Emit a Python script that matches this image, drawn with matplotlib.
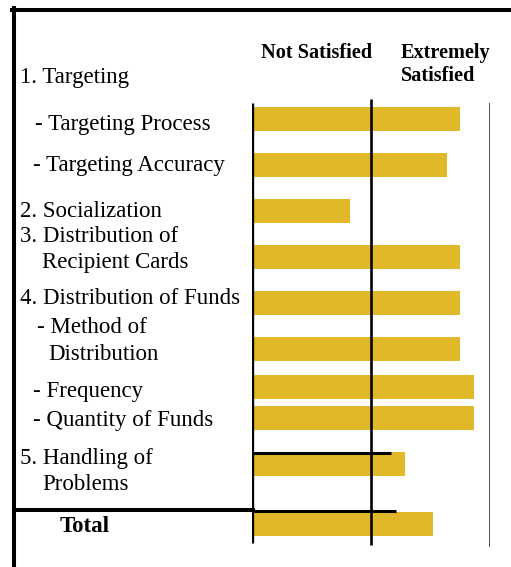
import matplotlib
matplotlib.use("Agg")
import matplotlib.pyplot as plt
from matplotlib.lines import Line2D

W, H = 511, 567

# satisfaction scores, 1 = not satisfied, 5 = extremely satisfied
items = ["Targeting Process", "Targeting Accuracy", "Socialization",
         "Distribution of Recipient Cards", "Distribution of Funds",
         "Method of Distribution", "Frequency", "Quantity of Funds",
         "Handling of Problems", "Total"]
scores = [4.50, 4.28, 2.65, 4.50, 4.50, 4.50, 4.73, 4.73, 3.57, 4.04]
scale_min, scale_mid, scale_max = 1, 3, 5

# row layout (pixel rows from top of the page)
bar_rows = [119, 165, 211, 257, 303, 349, 386.5, 417.5, 464, 524]
bar_h = 24

# left column labels: text, x px, baseline px, bold
labels = [
    ("1. Targeting", 20, 83, False),
    ("- Targeting Process", 35, 130, False),
    ("- Targeting Accuracy", 33, 171, False),
    ("2. Socialization", 20, 217, False),
    ("3. Distribution of", 20, 242, False),
    ("Recipient Cards", 42, 268, False),
    ("4. Distribution of Funds", 20, 304, False),
    ("- Method of", 37, 333, False),
    ("Distribution", 48, 360, False),
    ("- Frequency", 33, 397, False),
    ("- Quantity of Funds", 33, 426, False),
    ("5. Handling of", 20, 464, False),
    ("Problems", 42, 490, False),
    ("Total", 60, 532, True),
]
headers = [("Not Satisfied", 261, 58), ("Extremely", 401, 58), ("Satisfied", 401, 81)]

plt.rcParams['font.family'] = ['Liberation Serif', 'DejaVu Serif']

fig = plt.figure(figsize=(W / 100, H / 100), dpi=100)
fig.patch.set_facecolor("white")

# bar axes: x is the score scale, y runs in page pixels (top = 0)
ax = fig.add_axes([252 / W, 0, (490 - 252) / W, 1])
ax.set_xlim(scale_min, scale_max)
ax.set_ylim(H, 0)
ax.axis("off")

ax.barh(bar_rows, [s - scale_min for s in scores], left=scale_min,
        height=bar_h, color="#E1B928", zorder=2)

# scale lines
ax.vlines(scale_min, 103, 543, color="black", lw=2.4, zorder=3)
ax.vlines(scale_mid, 99, 545, color="black", lw=1.9, zorder=3)
ax.vlines(scale_max, 103, 547, color="#222222", lw=1.1, zorder=3)

# the odd little separators over the last two bars
px = (scale_max - scale_min) / (490 - 252)
ax.hlines(453, scale_min, scale_min + (391 - 252) * px, color="black", lw=2.2, zorder=3)
ax.hlines(511, scale_min, scale_min + (396 - 252) * px, color="black", lw=2.2, zorder=3)


def fx(x):
    return x / W


def fy(y):
    return 1 - y / H


# page frame
fig.add_artist(Line2D([fx(12), fx(W)], [fy(10), fy(10)], color="black", lw=2.9))
fig.add_artist(Line2D([fx(14), fx(14)], [fy(8), fy(H)], color="black", lw=2.9))
fig.add_artist(Line2D([fx(14), fx(253)], [fy(510), fy(510)], color="black", lw=2.9))

for txt, x, y, bold in labels:
    fig.text(fx(x), fy(y), txt, fontsize=16.5, va="baseline", ha="left",
             fontweight="bold" if bold else "normal")

for txt, x, y in headers:
    fig.text(fx(x), fy(y), txt, fontsize=14.6, va="baseline", ha="left",
             fontweight="bold")

fig.savefig("out.png", dpi=100)
